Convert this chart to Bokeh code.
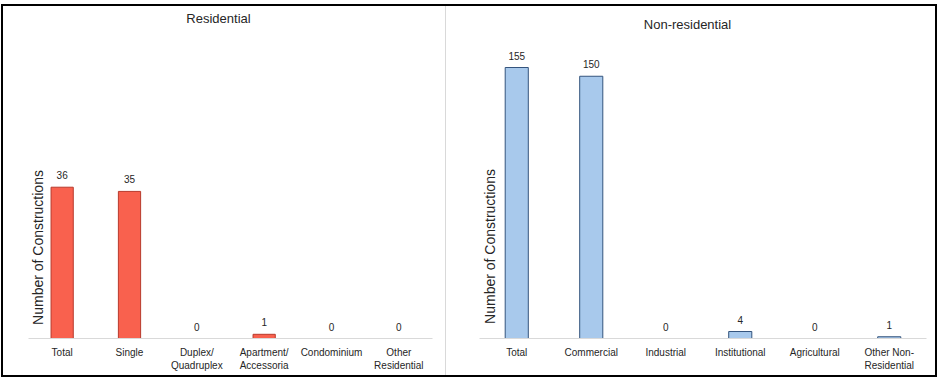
import math
from bokeh.plotting import figure
from bokeh.models import ColumnDataSource, LabelSet, Label, Range1d, FactorRange, CDSView, BooleanFilter
from bokeh.core.properties import value
from bokeh.layouts import row
from bokeh.embed import file_html
from bokeh.resources import INLINE

# ---- data ----
res_categories = ["Total", "Single", "Duplex/\nQuadruplex", "Apartment/\nAccessoria",
                  "Condominium", "Other\nResidential"]
res_values = [36, 35, 0, 1, 0, 0]

nonres_categories = ["Total", "Commercial", "Industrial", "Institutional",
                     "Agricultural", "Other Non-\nResidential"]
nonres_values = [155, 150, 0, 4, 0, 1]

res_title = "Residential"
nonres_title = "Non-residential"
y_label = "Number of Constructions"

FONT = "Liberation Sans"
TXT = "#262626"
H = 369


def panel(cats, vals, title, fill, line, width, mb_left, mb_right, y_end,
          bar_w, title_x, title_y, ylab_x, ylab_y):
    p = figure(x_range=FactorRange(factors=cats, range_padding=0),
               y_range=Range1d(0, y_end),
               width=width, height=H,
               min_border_left=mb_left, min_border_right=mb_right,
               min_border_top=0, min_border_bottom=37,
               output_backend="svg", toolbar_location=None)
    p.outline_line_color = None
    p.background_fill_color = "white"
    p.border_fill_color = "white"
    p.grid.visible = False
    p.yaxis.visible = False

    src = ColumnDataSource(dict(cat=cats, val=vals, lab=[str(v) for v in vals]))
    view = CDSView(filter=BooleanFilter([v > 0 for v in vals]))
    p.vbar(x="cat", top="val", width=bar_w, source=src, view=view,
           fill_color=fill, line_color=line, line_width=1)

    p.add_layout(LabelSet(x="cat", y="val", text="lab", source=src,
                          text_align="center", text_baseline="bottom",
                          y_offset=8, text_font=value(FONT), text_font_size="10px",
                          text_color=TXT))

    ax = p.xaxis[0]
    ax.axis_line_color = "#D9D9D9"
    ax.axis_line_width = 1
    ax.major_tick_line_color = None
    ax.minor_tick_line_color = None
    ax.major_tick_out = 0
    ax.major_label_standoff = 8
    ax.major_label_text_font = FONT
    ax.major_label_text_font_size = "10px"
    ax.major_label_text_color = TXT

    p.add_layout(Label(x=title_x, y=title_y, x_units="screen", y_units="screen",
                       text=title, text_align="center", text_baseline="middle",
                       text_font=FONT, text_font_size="13px", text_color=TXT))
    p.add_layout(Label(x=ylab_x, y=ylab_y, x_units="screen", y_units="screen",
                       text=y_label, angle=math.pi / 2, text_align="center",
                       text_baseline="middle", text_font=FONT,
                       text_font_size="14px", text_color=TXT))
    return p


p1 = panel(res_categories, res_values, res_title, "#F9614E", "#B83A2C",
           443, 25, 14, 79.0, 0.33, 190, 320, 9, 91)
p2 = panel(nonres_categories, nonres_values, nonres_title, "#A8C9EC", "#34547D",
           489, 33, 9, 189.9, 0.31, 208, 314, 10, 92)

p1.styles = {"border-right": "1px solid #D9D9D9"}
layout = row(p1, p2, styles={"border": "2px solid black", "margin-top": "4px",
                             "margin-left": "1px"})

open("out.html", "w").write(file_html(layout, INLINE))
